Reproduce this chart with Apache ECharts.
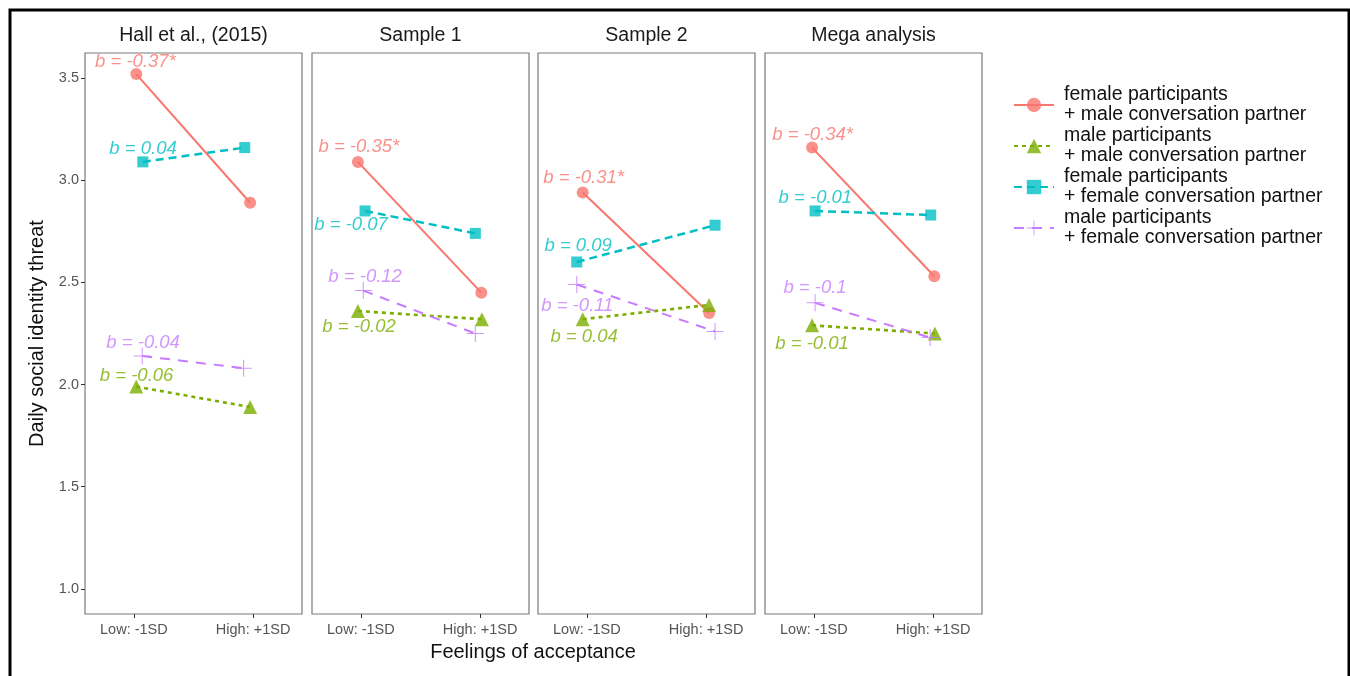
<!DOCTYPE html>
<html>
<head>
<meta charset="utf-8">
<script src="https://cdn.jsdelivr.net/npm/echarts@6/dist/echarts.min.js"></script>
<style>
  html, body { margin: 0; padding: 0; background: #fff; }
  #chart { width: 1350px; height: 676px; }
</style>
</head>
<body>
<div id="chart"></div>
<script>
const categories = ['Low: -1SD', 'High: +1SD']
const panels = ['Hall et al., (2015)', 'Sample 1', 'Sample 2', 'Mega analysis']
const groups = [
  'female participants\n+ male conversation partner',
  'male participants\n+ male conversation partner',
  'female participants\n+ female conversation partner',
  'male participants\n+ female conversation partner'
]
const yTicks = [1.0, 1.5, 2.0, 2.5, 3.0, 3.5]

// [low, high] for each panel
const femaleMale = [[3.52, 2.89], [3.09, 2.45], [2.94, 2.35], [3.16, 2.53]]
const maleMale = [[1.99, 1.89], [2.36, 2.32], [2.32, 2.39], [2.29, 2.25]]
const femaleFemale = [[3.09, 3.16], [2.85, 2.74], [2.60, 2.78], [2.85, 2.83]]
const maleFemale = [[2.14, 2.08], [2.46, 2.25], [2.49, 2.26], [2.40, 2.23]]

// small horizontal jitter of the points, in category units
const femaleMaleJitter = [[0.02, -0.025], [-0.025, 0.01], [-0.035, 0.025], [-0.015, 0.01]]
const maleMaleJitter = [[0.02, -0.025], [-0.025, 0.015], [-0.035, 0.025], [-0.015, 0.015]]
const femaleFemaleJitter = [[0.075, -0.07], [0.035, -0.04], [-0.085, 0.075], [0.01, -0.02]]
const maleFemaleJitter = [[0.07, -0.08], [0.02, -0.04], [-0.085, 0.075], [0.01, -0.025]]

// slope labels
const femaleMaleB = ['-0.37*', '-0.35*', '-0.31*', '-0.34*']
const maleMaleB = ['-0.06', '-0.02', '0.04', '-0.01']
const femaleFemaleB = ['0.04', '-0.07', '0.09', '-0.01']
const maleFemaleB = ['-0.04', '-0.12', '-0.11', '-0.1']

const values = [femaleMale, maleMale, femaleFemale, maleFemale]
const jitters = [femaleMaleJitter, maleMaleJitter, femaleFemaleJitter, maleFemaleJitter]
const slopes = [femaleMaleB, maleMaleB, femaleFemaleB, maleFemaleB]

// where the slope label starts (left edge, middle), per group and panel
const labelAt = [
  [[-0.33, 3.578], [-0.36, 3.162], [-0.37, 3.010], [-0.353, 3.221]],
  [[-0.29, 2.044], [-0.328, 2.284], [-0.31, 2.235], [-0.328, 2.201]],
  [[-0.21, 3.152], [-0.395, 2.784], [-0.36, 2.681], [-0.30, 2.912]],
  [[-0.235, 2.206], [-0.277, 2.529], [-0.387, 2.387], [-0.26, 2.471]]
]

const colors = ['#F8766D', '#7CAE00', '#00BFC4', '#C77CFF']
const plus = 'path://M-0.06,-1L0.06,-1L0.06,-0.06L1,-0.06L1,0.06L0.06,0.06L0.06,1L-0.06,1L-0.06,0.06L-1,0.06L-1,-0.06L-0.06,-0.06Z'
const styles = [
  { symbol: 'circle', size: 12, width: 2, type: 'solid' },
  { symbol: 'triangle', size: 14, width: 2.6, type: [4, 4] },
  { symbol: 'rect', size: 11, width: 2.5, type: [8, 5] },
  { symbol: plus, size: 17, width: 2, type: [10, 8] }
]

const panelLeft = [85, 312, 538, 765]
const panelWidth = 217
const font = 'Liberation Sans, Arial, sans-serif'

const chart = echarts.init(document.getElementById('chart'))

const grid = [], xAxis = [], yAxis = [], title = [], series = []

panels.forEach((p, i) => {
  grid.push({
    left: panelLeft[i], top: 53, width: panelWidth, height: 561,
    show: true, borderColor: '#7a7a7a', borderWidth: 1.2,
    containLabel: false, outerBoundsMode: 'none'
  })
  xAxis.push({
    type: 'value', gridIndex: i, min: -0.41, max: 1.41,
    axisLine: { show: false, onZero: false },
    splitLine: { show: false },
    axisTick: { show: true, customValues: [0, 1], length: 4, lineStyle: { color: '#333' } },
    axisLabel: {
      customValues: [0, 1], margin: 8, color: '#555', fontSize: 14.5, fontFamily: font,
      formatter: v => categories[Math.round(v)]
    }
  })
  yAxis.push({
    type: 'value', gridIndex: i, min: 0.877, max: 3.623,
    axisLine: { show: false, onZero: false },
    splitLine: { show: false },
    axisTick: { show: i === 0, customValues: yTicks, length: 4, lineStyle: { color: '#333' } },
    axisLabel: {
      show: i === 0, customValues: yTicks, margin: 6, color: '#555', fontSize: 14.5, fontFamily: font,
      formatter: v => v.toFixed(1)
    },
    name: i === 0 ? 'Daily social identity threat' : '',
    nameLocation: 'middle', nameGap: 38,
    nameTextStyle: { color: '#111', fontSize: 20, fontFamily: font }
  })
  title.push({
    text: p, left: panelLeft[i] + panelWidth / 2, top: 26, textAlign: 'center', padding: 0,
    textStyle: { color: '#1a1a1a', fontSize: 19.5, fontWeight: 'normal', fontFamily: font }
  })

  groups.forEach((g, k) => {
    const st = styles[k]
    series.push({
      name: g, type: 'line', xAxisIndex: i, yAxisIndex: i,
      data: values[k][i].map((v, j) => [j + jitters[k][i][j], v]),
      symbol: st.symbol, symbolSize: st.size, showSymbol: true,
      itemStyle: { color: colors[k], opacity: 0.8 },
      lineStyle: { color: colors[k], width: st.width, type: st.type },
      emphasis: { disabled: true },
      animation: false, z: 2 + k
    })
  })

  series.push({
    type: 'scatter', xAxisIndex: i, yAxisIndex: i, silent: true, animation: false,
    symbolSize: 1, itemStyle: { color: 'transparent' }, z: 10,
    data: groups.map((g, k) => ({
      value: labelAt[k][i], name: 'b = ' + slopes[k][i],
      label: { color: colors[k] }
    })),
    label: {
      show: true, position: 'right', distance: 0, formatter: '{b}',
      fontSize: 18.5, fontStyle: 'italic', fontFamily: font
    }
  })
})

title.push({
  text: 'Feelings of acceptance', left: 533, top: 642, textAlign: 'center', padding: 0,
  textStyle: { color: '#111', fontSize: 20, fontWeight: 'normal', fontFamily: font }
})

chart.setOption({
  animation: false,
  backgroundColor: '#fff',
  title,
  grid,
  xAxis,
  yAxis,
  series,
  legend: {
    data: groups, orient: 'vertical', left: 1013, top: 85,
    itemWidth: 40, itemHeight: 18, itemGap: 1, padding: 0,
    textStyle: { color: '#111', fontSize: 19.5, lineHeight: 20, fontFamily: font, padding: [0, 0, 0, 5] }
  },
  graphic: [{
    type: 'rect', shape: { x: 10, y: 10, width: 1339, height: 700 },
    style: { fill: 'none', stroke: '#000', lineWidth: 3 }, silent: true, z: 100
  }]
})
</script>
</body>
</html>
